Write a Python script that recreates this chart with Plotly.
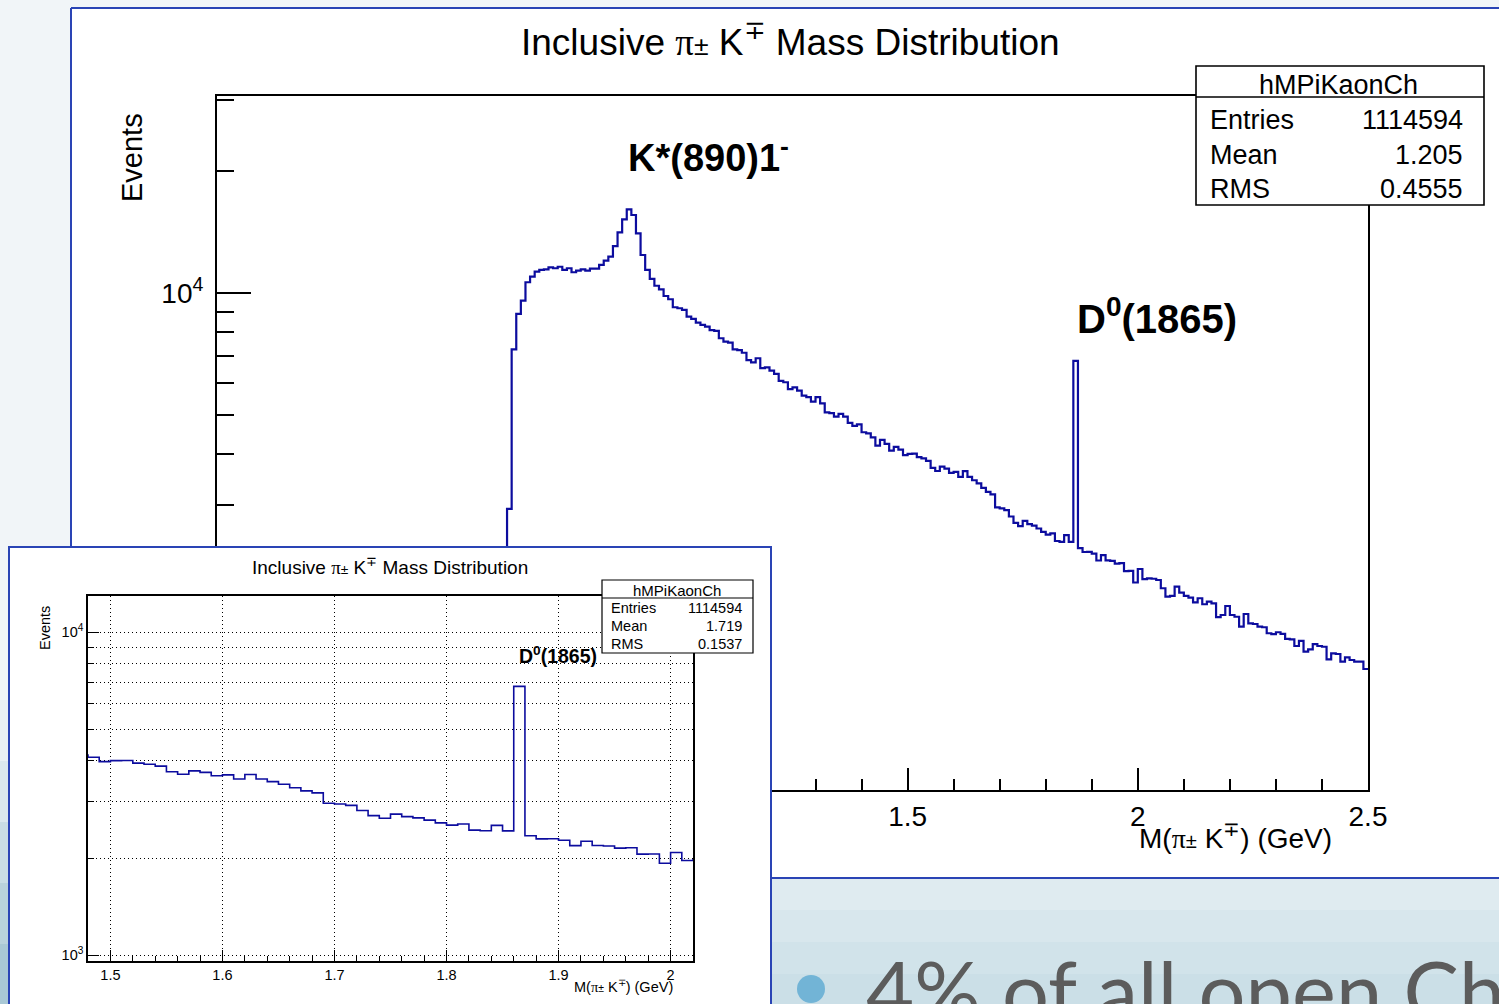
import plotly.graph_objects as go

W, H = 1499, 1004

# ---------------- data ----------------
BIN_LOW = 0.63
BIN_WIDTH = 0.01
COUNTS = [
    2930, 7260, 8880, 9570, 10630, 10970, 11290, 11400, 11440, 11570,
    11510, 11610, 11400, 11510, 11250, 11350, 11440, 11350, 11480, 11480,
    11730, 12020, 12290, 13060, 14120, 15200, 16090, 15580, 14040, 12410,
    11400, 10830, 10420, 10210, 9830, 9650, 9220, 9170, 9080, 8740,
    8630, 8450, 8340, 8260, 8100, 8060, 7730, 7580, 7540, 7260,
    7230, 7120, 6830, 6740, 6900, 6520, 6550, 6430, 6310, 6070,
    6020, 5790, 5850, 5740, 5580, 5530, 5390, 5530, 5340, 5070,
    5050, 4950, 5030, 4950, 4780, 4700, 4740, 4530, 4500, 4400,
    4200, 4340, 4240, 4080, 4170, 4105, 3978, 4005, 4010, 3935,
    3905, 3852, 3700, 3635, 3725, 3683, 3595, 3618, 3516, 3630,
    3516, 3448, 3387, 3301, 3228, 3183, 2957, 2940, 2911, 2806,
    2707, 2657, 2736, 2688, 2663, 2621, 2571, 2530, 2550, 2441,
    2430, 2525, 2428, 6800, 2345, 2293, 2295, 2271, 2185, 2254,
    2187, 2180, 2147, 2152, 2057, 2059, 1928, 2082, 1966, 1975,
    1970, 1956, 1866, 1780, 1786, 1883, 1820, 1786, 1769, 1723,
    1763, 1704, 1729, 1713, 1583, 1603, 1687, 1603, 1587, 1500,
    1612, 1529, 1523, 1500, 1495, 1445, 1437, 1453, 1439, 1399,
    1396, 1344, 1383, 1301, 1319, 1359, 1344, 1338, 1246, 1289,
    1284, 1229, 1260, 1241, 1229, 1229, 1179,
]
HIST_NAME = "hMPiKaonCh"
ENTRIES = "1114594"
MAIN_MEAN, MAIN_RMS = "1.205", "0.4555"
INSET_MEAN, INSET_RMS = "1.719", "0.1537"

MAIN_X_TICKS = [0, 0.5, 1, 1.5, 2, 2.5]
MAIN_X_TICKTEXT = ["0", "0.5", "1", "1.5", "2", "2.5"]
INSET_X_TICKS = [1.5, 1.6, 1.7, 1.8, 1.9, 2.0]
INSET_X_TICKTEXT = ["1.5", "1.6", "1.7", "1.8", "1.9", "2"]
Y_MAJOR = [1000, 10000]
Y_MAJOR_TEXT = ["10<sup>3</sup>", "10<sup>4</sup>"]
Y_MINOR_MAIN = [2000, 3000, 4000, 5000, 6000, 7000, 8000, 9000, 20000, 30000]
Y_MINOR_INSET = [2000, 3000, 4000, 5000, 6000, 7000, 8000, 9000]

MAIN_X_RANGE = [0, 2.5]
MAIN_Y_RANGE = [2.7728, 4.4854]     # log10
INSET_X_RANGE = [1.48, 2.02]
INSET_Y_RANGE = [2.9833, 4.1124]    # log10

# ---------------- helpers ----------------
def fx(p):
    return p / W

def fy(p):
    return 1 - p / H

edges = [BIN_LOW + BIN_WIDTH * i for i in range(len(COUNTS) + 1)]
step_y = COUNTS + [COUNTS[-1]]

FONT = "Liberation Sans"
BLACK = "#000000"
FRAME_BLUE = "#2a44b5"
HIST_BLUE = "#0c0c9e"
PI = "<span style='font-family:Liberation Serif'>π</span><span style='font-size:72%'>±</span>"
PIK = PI + " K<sup>∓</sup>"

fig = go.Figure()

# main histogram (rises from the axis floor like ROOT's outline)
fig.add_trace(go.Scatter(
    x=[edges[0]] + edges, y=[10 ** MAIN_Y_RANGE[0]] + step_y,
    mode="lines", line=dict(color=HIST_BLUE, width=2.2, shape="hv"),
    xaxis="x", yaxis="y", hoverinfo="skip", showlegend=False))
# empty subplot acting as opaque inset frame
fig.add_trace(go.Scatter(x=[], y=[], xaxis="x2", yaxis="y2",
                         hoverinfo="skip", showlegend=False))
# inset histogram
fig.add_trace(go.Scatter(
    x=edges, y=step_y, mode="lines",
    line=dict(color=HIST_BLUE, width=1.6, shape="hv"),
    xaxis="x3", yaxis="y3", hoverinfo="skip", showlegend=False))

shapes = []
# slide background pieces
left_band = ["#e9f0f4", "#dbe8ee", "#c9dde5", "#b9d2dc", "#a9c8d5"]
for i, c in enumerate(left_band):
    y0 = 700 + i * 61
    shapes.append(dict(type="rect", xref="paper", yref="paper", layer="below",
                       x0=0, x1=fx(12), y0=fy(min(y0 + 61, H)), y1=fy(y0),
                       fillcolor=c, line=dict(width=0)))
br_band = ["#dfebf0", "#d8e7ed", "#d1e3ea", "#cbdfe7"]
for i, c in enumerate(br_band):
    y0 = 878 + i * 32
    shapes.append(dict(type="rect", xref="paper", yref="paper", layer="below",
                       x0=fx(770), x1=1.0, y0=fy(min(y0 + 32, H)), y1=fy(y0),
                       fillcolor=c, line=dict(width=0)))
# main canvas frame (white, open on the right edge)
shapes.append(dict(type="rect", xref="paper", yref="paper", layer="below",
                   x0=fx(71), x1=1.0, y0=fy(878), y1=fy(8),
                   fillcolor="white", line=dict(width=0)))
for (xa, ya, xb, yb) in [(71, 8, W, 8), (71, 878, W, 878), (71, 8, 71, 878)]:
    shapes.append(dict(type="line", xref="paper", yref="paper", layer="below",
                       x0=fx(xa), y0=fy(ya), x1=fx(xb), y1=fy(yb),
                       line=dict(color=FRAME_BLUE, width=2)))
# bullet
shapes.append(dict(type="circle", xref="paper", yref="paper", layer="above",
                   x0=fx(797), x1=fx(825), y0=fy(1003), y1=fy(975),
                   fillcolor="#72b4d6", line=dict(width=0)))
# stats boxes
for (x0, x1, y0, y1, yl, lw) in [(1196, 1484, 66, 205, 97, 1.6),
                                 (602, 753, 580, 653, 598, 1.2)]:
    shapes.append(dict(type="rect", xref="paper", yref="paper", layer="above",
                       x0=fx(x0), x1=fx(x1), y0=fy(y1), y1=fy(y0),
                       fillcolor="white", line=dict(color=BLACK, width=lw)))
    shapes.append(dict(type="line", xref="paper", yref="paper", layer="above",
                       x0=fx(x0), x1=fx(x1), y0=fy(yl), y1=fy(yl),
                       line=dict(color=BLACK, width=lw)))

ann = []

def add_text(text, x, y, size, xa="center", ya="middle", angle=0,
             color=BLACK, family=FONT):
    ann.append(dict(text=text, x=fx(x), y=fy(y), xref="paper", yref="paper",
                    xanchor=xa, yanchor=ya, showarrow=False, textangle=angle,
                    font=dict(size=size, color=color, family=family)))

# main pad texts
add_text("Inclusive " + PIK + " Mass Distribution", 791, 40, 37)
add_text("Events", 132, 158, 29, angle=-90)
add_text("M(" + PIK + ") (GeV)", 1334, 836, 28, xa="right")
add_text("<b>K*(890)1<sup>-</sup></b>", 626, 155, 38, xa="left")
add_text("<b>D<sup>0</sup>(1865)</b>", 1075, 316, 40, xa="left")
add_text(HIST_NAME, 1338, 85, 27)
for label, val, yy in [("Entries", ENTRIES, 120), ("Mean", MAIN_MEAN, 155),
                       ("RMS", MAIN_RMS, 189)]:
    add_text(label, 1208, yy, 27, xa="left")
    add_text(val, 1465, yy, 27, xa="right")

# inset texts
add_text("Inclusive " + PIK + " Mass Distribution", 390, 566, 19)
add_text("Events", 45, 628, 14.5, angle=-90)
add_text("M(" + PIK + ") (GeV)", 675, 986, 14.5, xa="right")
add_text("<b>D<sup>0</sup>(1865)</b>", 517, 655, 19.5, xa="left")
add_text(HIST_NAME, 677, 590, 15)
for label, val, yy in [("Entries", ENTRIES, 608), ("Mean", INSET_MEAN, 626),
                       ("RMS", INSET_RMS, 644)]:
    add_text(label, 609, yy, 14.5, xa="left")
    add_text(val, 744, yy, 14.5, xa="right")

# slide text
add_text("4% of all open Ch", 864, 938, 83, xa="left", ya="top",
         color="#5c5c5c", family="Lato")

axis_font = dict(family=FONT, size=28, color=BLACK)
inset_font = dict(family=FONT, size=14.5, color=BLACK)
DOT = "1px,3px"

fig.update_layout(
    width=W, height=H, autosize=False,
    margin=dict(l=0, r=0, t=0, b=0, pad=0, autoexpand=False),
    paper_bgcolor="#f1f5f8", plot_bgcolor="white",
    font=dict(family=FONT, color=BLACK),
    showlegend=False,
    shapes=shapes, annotations=ann,
    xaxis=dict(domain=[fx(217), fx(1368)], range=MAIN_X_RANGE, anchor="y",
               automargin=False,
               showline=True, mirror=True, linecolor=BLACK, linewidth=2,
               ticks="inside", ticklen=22, tickwidth=1.6, tickcolor=BLACK,
               tickvals=MAIN_X_TICKS, ticktext=MAIN_X_TICKTEXT,
               tickfont=axis_font, showgrid=False, zeroline=False,
               minor=dict(dtick=0.1, tick0=0, ticks="inside", ticklen=11,
                          tickwidth=1.6, tickcolor=BLACK, showgrid=False)),
    yaxis=dict(domain=[fy(790), fy(96.4)], type="log", range=MAIN_Y_RANGE,
               anchor="x", automargin=False, showline=True, mirror=True,
               linecolor=BLACK,
               linewidth=2, ticks="inside", ticklen=34, tickwidth=1.6,
               tickcolor=BLACK, tickvals=Y_MAJOR, ticktext=Y_MAJOR_TEXT,
               tickfont=axis_font, showgrid=False, zeroline=False,
               ticklabelstandoff=6,
               minor=dict(tickmode="array", tickvals=Y_MINOR_MAIN,
                          ticks="inside", ticklen=17, tickwidth=1.6,
                          tickcolor=BLACK, showgrid=False)),
    xaxis2=dict(domain=[fx(10), fx(770)], range=[0, 1], anchor="y2",
                automargin=False,
                side="top", showline=True, mirror=False, linecolor=FRAME_BLUE,
                linewidth=2, showticklabels=False, ticks="", showgrid=False,
                zeroline=False, fixedrange=True),
    yaxis2=dict(domain=[0, fy(548)], range=[0, 1], anchor="x2",
                automargin=False,
                showline=True, mirror=True, linecolor=FRAME_BLUE, linewidth=2,
                showticklabels=False, ticks="", showgrid=False,
                zeroline=False, fixedrange=True),
    xaxis3=dict(domain=[fx(88), fx(693)], range=INSET_X_RANGE, anchor="y3",
                automargin=False,
                showline=True, mirror=True, linecolor=BLACK, linewidth=1.5,
                ticks="inside", ticklen=11, tickwidth=1.2, tickcolor=BLACK,
                tickvals=INSET_X_TICKS, ticktext=INSET_X_TICKTEXT,
                tickfont=inset_font, showgrid=True, gridcolor=BLACK,
                gridwidth=1, griddash=DOT, zeroline=False,
                minor=dict(dtick=0.02, tick0=1.5, ticks="inside", ticklen=5,
                           tickwidth=1.2, tickcolor=BLACK, showgrid=False)),
    yaxis3=dict(domain=[fy(960.7), fy(596)], type="log", range=INSET_Y_RANGE,
                anchor="x3", automargin=False, showline=True, mirror=True,
                linecolor=BLACK,
                linewidth=1.5, ticks="inside", ticklen=11, tickwidth=1.2,
                tickcolor=BLACK, tickvals=Y_MAJOR, ticktext=Y_MAJOR_TEXT,
                tickfont=inset_font, showgrid=True, gridcolor=BLACK,
                gridwidth=1, griddash=DOT, zeroline=False,
                minor=dict(tickmode="array", tickvals=Y_MINOR_INSET,
                           ticks="inside", ticklen=6, tickwidth=1.2,
                           tickcolor=BLACK, showgrid=True, gridcolor=BLACK,
                           gridwidth=1, griddash=DOT)),
)

PAGE_JS = (
    "var de=document.documentElement, b=document.body;"
    "[de,b].forEach(function(e){e.style.margin='0px';e.style.padding='0px';"
    "e.style.overflow='hidden';});"
)

fig.write_html("out.html", config={"displayModeBar": False},
               post_script=PAGE_JS)
